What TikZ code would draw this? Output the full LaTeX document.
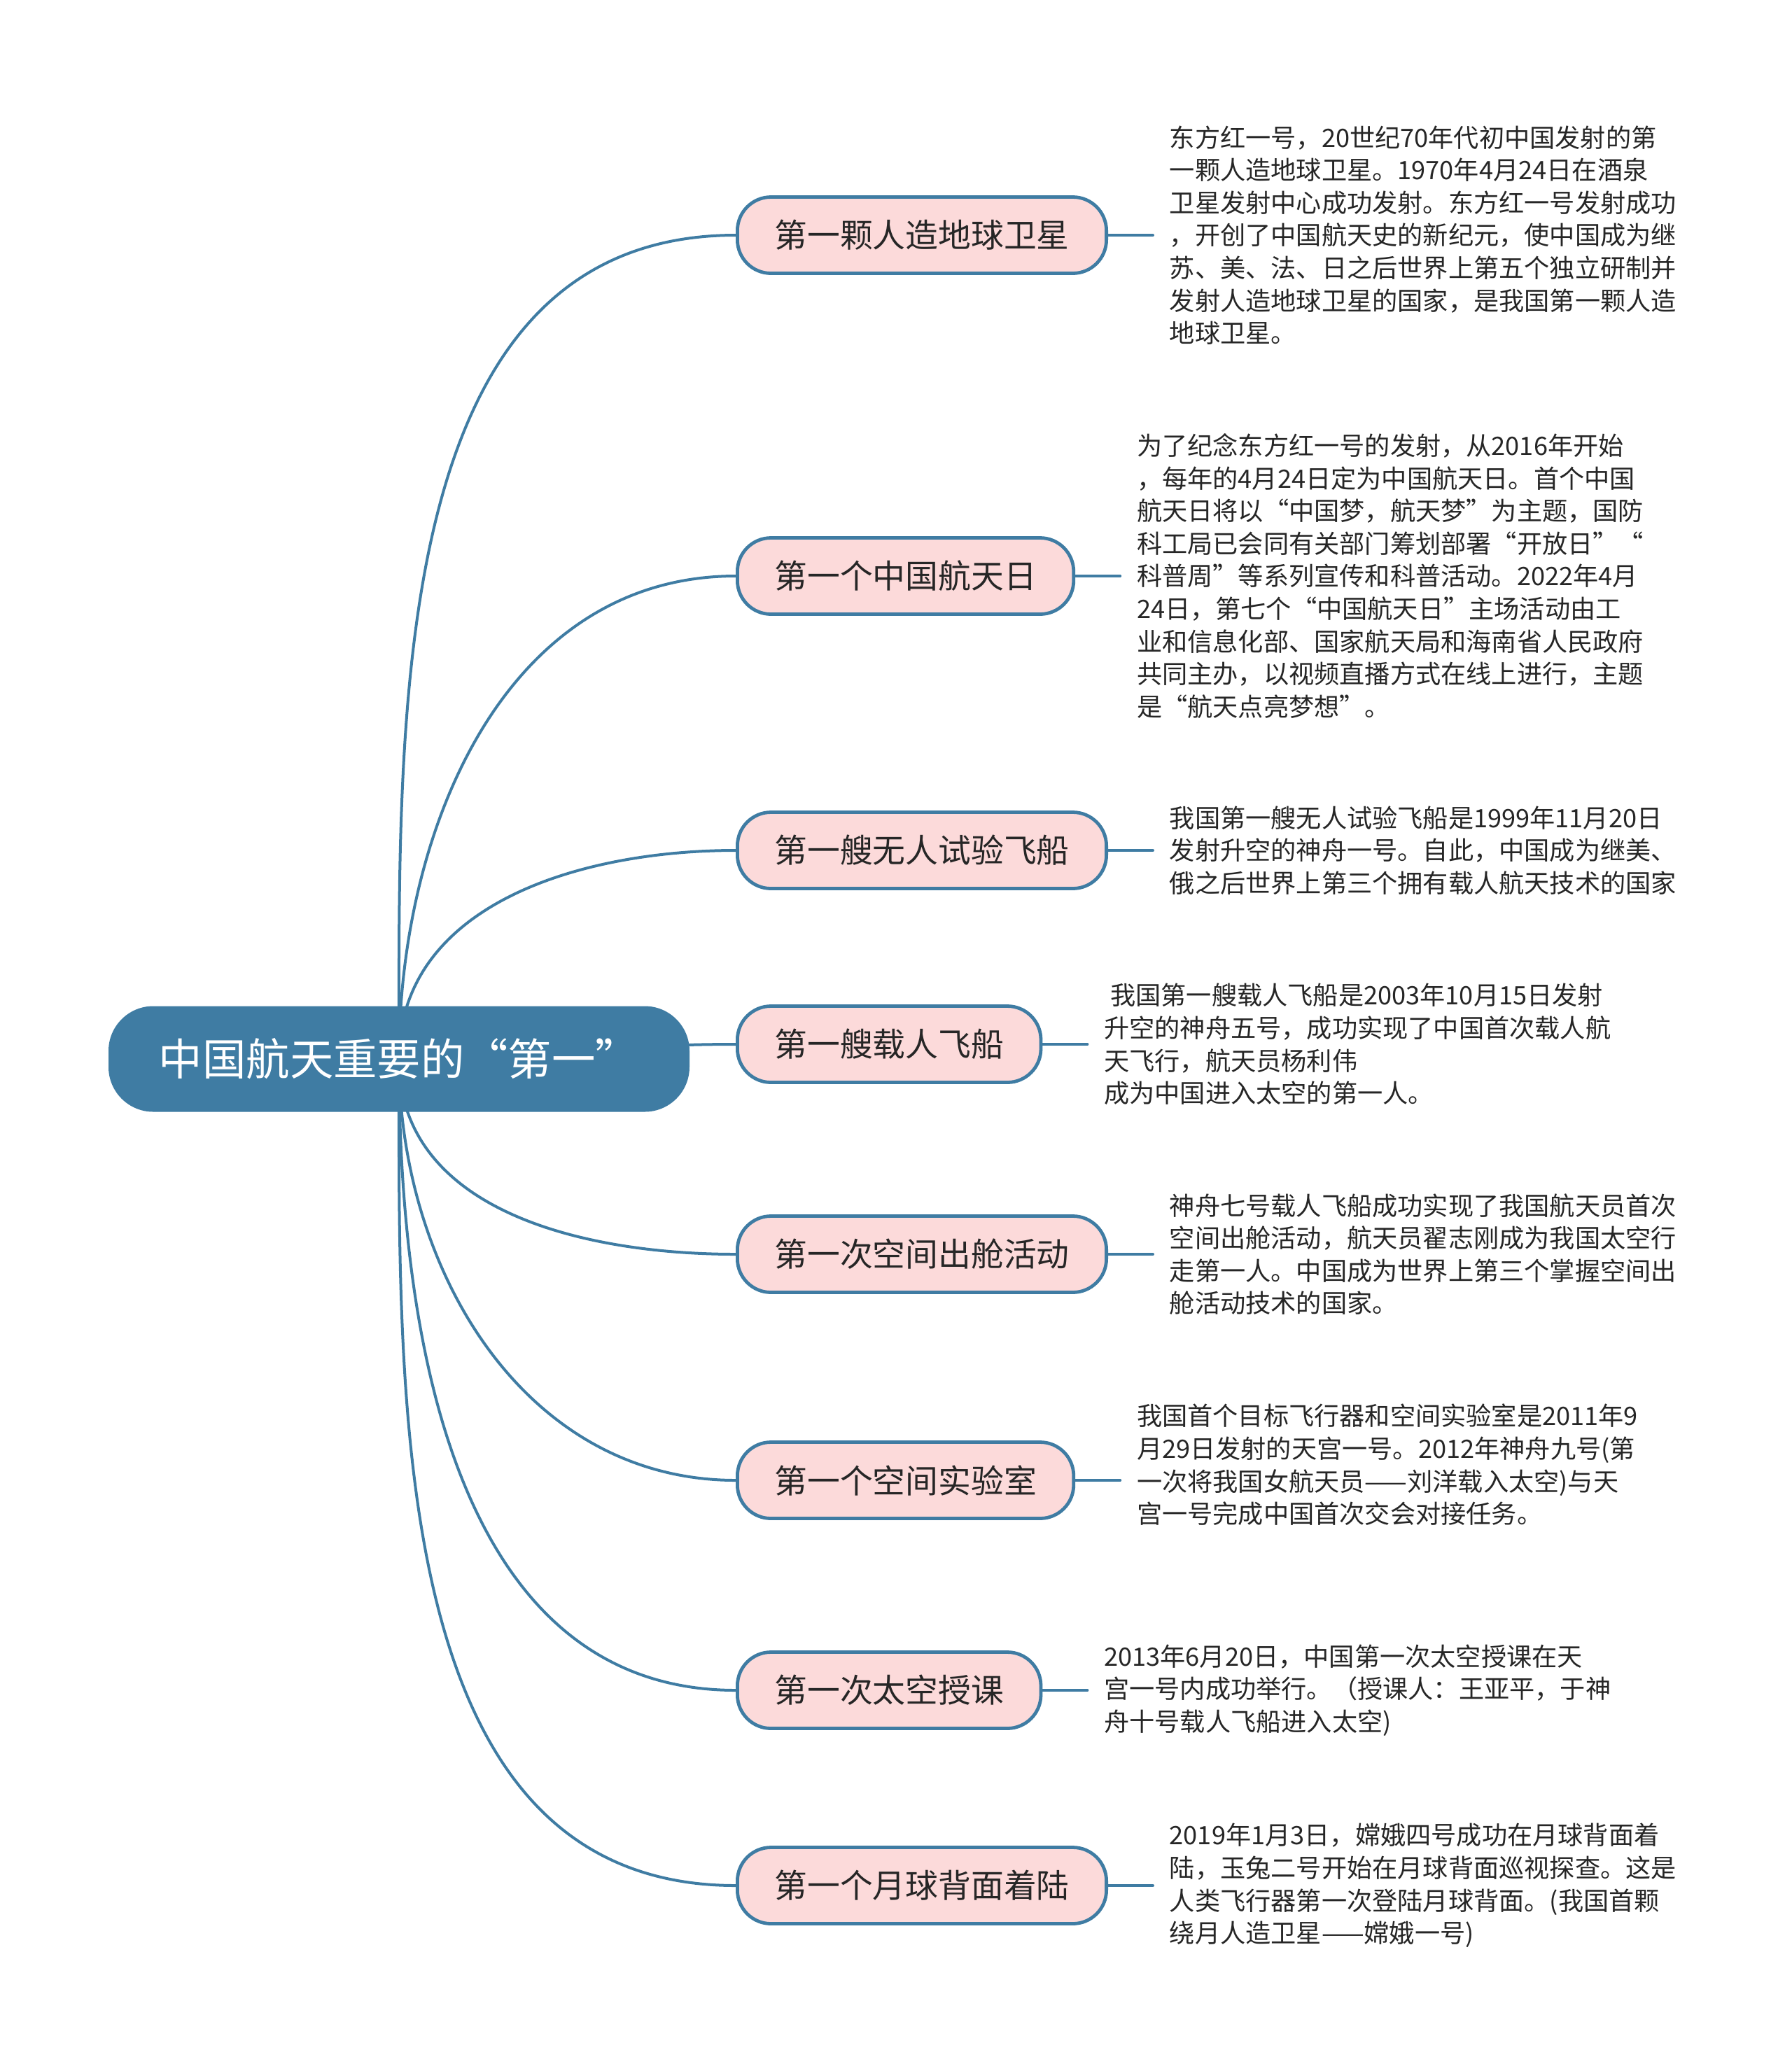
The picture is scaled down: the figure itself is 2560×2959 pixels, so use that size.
\documentclass[tikz,border=0pt]{standalone}
\usepackage{fontspec}
\setmainfont{Noto Sans CJK SC}
\usetikzlibrary{positioning,backgrounds}
\definecolor{hangtianlan}{HTML}{3F7CA3}
\definecolor{fenhong}{HTML}{FCDADA}
\tikzset{
  genjie/.style={fill=hangtianlan, rounded corners=16pt, minimum width=207.5pt, minimum height=37.75pt, text=white, font=\fontsize{15.6pt}{18pt}\selectfont},
  fenzhi/.style={draw=hangtianlan, line width=1.2pt, fill=fenhong, rounded corners=12pt, minimum height=27.25pt, inner xsep=13.25pt, anchor=west, text=black!85, font=\fontsize{11.7pt}{14pt}\selectfont},
  shuoming/.style={align=left, inner xsep=5.75pt, inner ysep=0pt, text=black!85, font=\fontsize{9.05pt}{11.65pt}\selectfont},
  lianxian/.style={draw=hangtianlan, line width=1pt}
}
\begin{document}
\begin{tikzpicture}[x=0.25pt, y=-0.25pt, line join=round, line cap=round]
  \useasboundingbox (0,0) rectangle (2560,2959);

  % 中心主题
  \node[genjie] (root) at (570,1513) {中国航天重要的“第一”};

  % 分支
  \node[fenzhi] (b1) at (1051,336) {第一颗人造地球卫星};
  \node[fenzhi] (b2) at (1051,823) {第一个中国航天日};
  \node[fenzhi] (b3) at (1051,1215) {第一艘无人试验飞船};
  \node[fenzhi] (b4) at (1051,1492) {第一艘载人飞船};
  \node[fenzhi] (b5) at (1051,1792) {第一次空间出舱活动};
  \node[fenzhi] (b6) at (1051,2115) {第一个空间实验室};
  \node[fenzhi] (b7) at (1051,2415) {第一次太空授课};
  \node[fenzhi] (b8) at (1051,2694) {第一个月球背面着陆};

  % 说明文字
  \node[shuoming, right=16pt of b1] (t1) {东方红一号，20世纪70年代初中国发射的第\\一颗人造地球卫星。1970年4月24日在酒泉\\卫星发射中心成功发射。东方红一号发射成功\\，开创了中国航天史的新纪元，使中国成为继\\苏、美、法、日之后世界上第五个独立研制并\\发射人造地球卫星的国家，是我国第一颗人造\\地球卫星。};
  \node[shuoming, right=16pt of b2] (t2) {为了纪念东方红一号的发射，从2016年开始\\，每年的4月24日定为中国航天日。首个中国\\航天日将以“中国梦，航天梦”为主题，国防\\科工局已会同有关部门筹划部署“开放日”“\\科普周”等系列宣传和科普活动。2022年4月\\24日，第七个“中国航天日”主场活动由工\\业和信息化部、国家航天局和海南省人民政府\\共同主办，以视频直播方式在线上进行，主题\\是“航天点亮梦想”。};
  \node[shuoming, right=16pt of b3] (t3) {我国第一艘无人试验飞船是1999年11月20日\\发射升空的神舟一号。自此，中国成为继美、\\俄之后世界上第三个拥有载人航天技术的国家};
  \node[shuoming, right=16pt of b4] (t4) {\hspace*{0.25em}我国第一艘载人飞船是2003年10月15日发射\\升空的神舟五号，成功实现了中国首次载人航\\天飞行，航天员杨利伟\\成为中国进入太空的第一人。};
  \node[shuoming, right=16pt of b5] (t5) {神舟七号载人飞船成功实现了我国航天员首次\\空间出舱活动，航天员翟志刚成为我国太空行\\走第一人。中国成为世界上第三个掌握空间出\\舱活动技术的国家。};
  \node[shuoming, right=16pt of b6, yshift=5.5pt] (t6) {我国首个目标飞行器和空间实验室是2011年9\\月29日发射的天宫一号。2012年神舟九号(第\\一次将我国女航天员——刘洋载入太空)与天\\宫一号完成中国首次交会对接任务。};
  \node[shuoming, right=16pt of b7] (t7) {2013年6月20日，中国第一次太空授课在天\\宫一号内成功举行。（授课人：王亚平，于神\\舟十号载人飞船进入太空)};
  \node[shuoming, right=16pt of b8] (t8) {2019年1月3日，嫦娥四号成功在月球背面着\\陆，玉兔二号开始在月球背面巡视探查。这是\\人类飞行器第一次登陆月球背面。(我国首颗\\绕月人造卫星——嫦娥一号)};

  % 连线
  \begin{scope}[on background layer]
    \draw[lianxian] (root.center) to[out=90, in=180] (b1.west);
    \draw[lianxian] (root.center) to[out=90, in=180] (b2.west);
    \draw[lianxian] (root.center) to[out=90, in=180] (b3.west);
    \draw[lianxian] (root.center) to[out=0, in=180] (b4.west);
    \draw[lianxian] (root.center) to[out=270, in=180] (b5.west);
    \draw[lianxian] (root.center) to[out=270, in=180] (b6.west);
    \draw[lianxian] (root.center) to[out=270, in=180] (b7.west);
    \draw[lianxian] (root.center) to[out=270, in=180] (b8.west);
  \end{scope}
  \draw[lianxian] (b1.east) -- (t1.west);
  \draw[lianxian] (b2.east) -- (t2.west);
  \draw[lianxian] (b3.east) -- (t3.west);
  \draw[lianxian] (b4.east) -- (t4.west);
  \draw[lianxian] (b5.east) -- (t5.west);
  \draw[lianxian] (b6.east) -- (b6.east -| t6.west);
  \draw[lianxian] (b7.east) -- (t7.west);
  \draw[lianxian] (b8.east) -- (t8.west);
\end{tikzpicture}
\end{document}
